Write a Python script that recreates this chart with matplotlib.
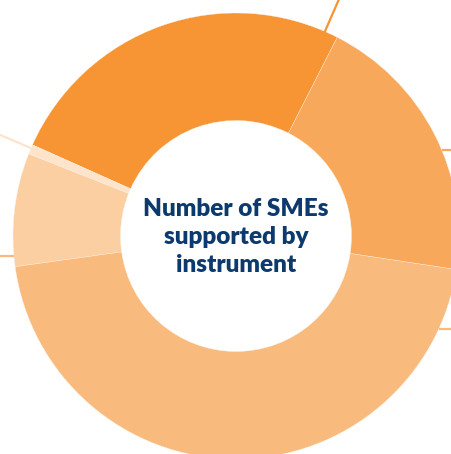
import matplotlib
matplotlib.use("Agg")
import matplotlib.pyplot as plt
import numpy as np

# Share of SMEs supported, by instrument (percent of total)
instruments = ["Instrument A", "Instrument B", "Instrument C", "Instrument D", "Instrument E"]
shares = [25.8, 0.7, 8.2, 45.4, 19.9]
colors = ["#F79433", "#FDE4CB", "#FBCFA2", "#F9BA7E", "#F8A85A"]
title_lines = ["Number of SMEs", "supported by", "instrument"]

W, H = 451, 454
fig = plt.figure(figsize=(W / 100, H / 100), dpi=100)
ax = fig.add_axes([0, 0, 1, 1])
ax.set_xlim(0, W)
ax.set_ylim(0, H)
ax.set_aspect("equal")
ax.axis("off")

cx, cy = 236, H - 236
r_out, r_in = 223, 115.5

ax.pie(shares, colors=colors, startangle=63, counterclock=True,
       radius=r_out, center=(cx, cy),
       wedgeprops=dict(width=r_out - r_in, edgecolor="#FFF3E6", linewidth=0.25))
ax.set_xlim(0, W)
ax.set_ylim(0, H)

# Leader lines towards the outer labels
def radial(angle_deg, r0, r1, color, lw):
    a = np.deg2rad(angle_deg)
    ax.plot([cx + r0 * np.cos(a), cx + r1 * np.cos(a)],
            [cy + r0 * np.sin(a), cy + r1 * np.sin(a)],
            color=color, lw=lw, solid_capstyle="butt")

def horizontal(dy, color, side, lw):
    y = cy + dy
    x_edge = np.sqrt(r_out ** 2 - dy ** 2)
    if side > 0:
        ax.plot([cx + x_edge, W + 5], [y, y], color=color, lw=lw, solid_capstyle="butt")
    else:
        ax.plot([-5, cx - x_edge], [y, y], color=color, lw=lw, solid_capstyle="butt")

radial(66.5, r_out - 2, 300, colors[0], 1.6)
radial(156.8, r_out, 300, colors[1], 1.6)
horizontal(86, colors[4], +1, 1.6)
horizontal(-93, colors[3], +1, 1.6)
horizontal(-20, colors[3], -1, 1.6)

for i, line in enumerate(title_lines):
    ax.text(cx, cy + 28.5 * (1 - i) - 1, line, ha="center", va="center",
            fontsize=17.5, fontweight="heavy", family="Lato", color="#0C3A6E")

fig.savefig("out.png", dpi=100)
